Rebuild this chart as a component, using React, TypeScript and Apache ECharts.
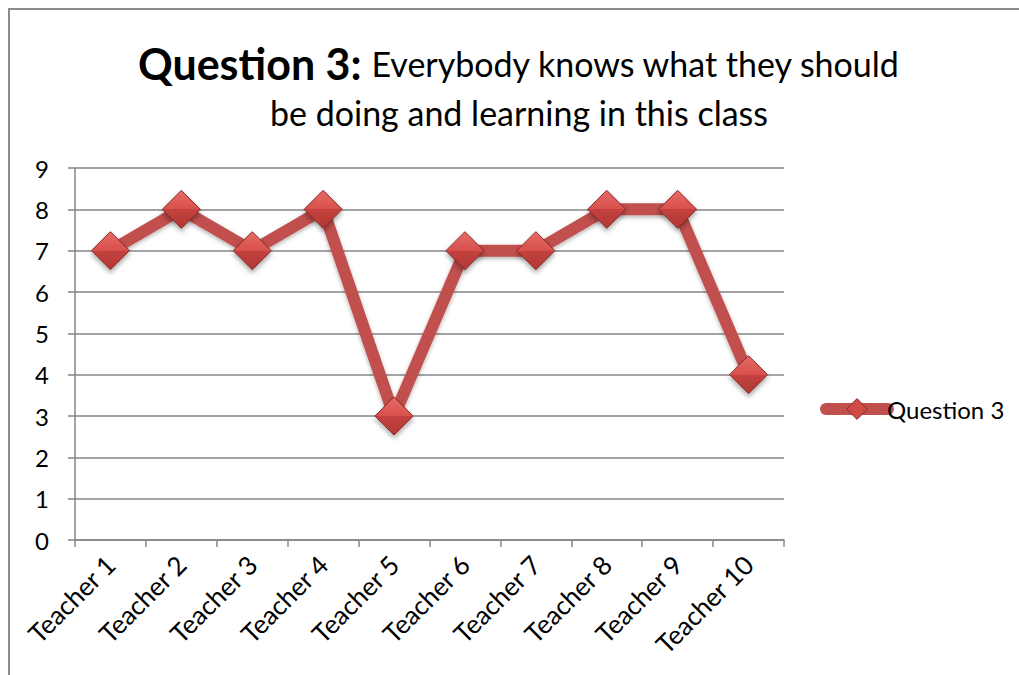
import React, { useEffect, useRef } from "react";
import * as echarts from "echarts";

const categories = ["Teacher 1", "Teacher 2", "Teacher 3", "Teacher 4", "Teacher 5", "Teacher 6", "Teacher 7", "Teacher 8", "Teacher 9", "Teacher 10"];
const values = [7, 8, 7, 8, 3, 7, 7, 8, 8, 4];
const seriesName = "Question 3";
const titleBold = "Question 3:";
const titleLine1 = "Everybody knows what they should";
const titleLine2 = "be doing and learning in this class";

const FONT = "Lato, 'Open Sans', sans-serif";

export default function App() {
  const ref = useRef<HTMLDivElement>(null);
  useEffect(() => {
    if (!ref.current) return;
    const chart = echarts.init(ref.current, null, { renderer: "svg" });
    const markerColor = new echarts.graphic.LinearGradient(0, 0, 0, 1, [
      { offset: 0, color: "#e66b67" },
      { offset: 0.5, color: "#d8504c" },
      { offset: 0.5, color: "#c4423e" },
      { offset: 1, color: "#b03834" },
    ]);
    chart.setOption({
      animation: false,
      backgroundColor: "#ffffff",
      textStyle: { fontFamily: FONT },
      graphic: [
        {
          type: "rect",
          shape: { x: 9, y: 9, width: 1100, height: 1000 },
          style: { fill: "none", stroke: "#8c8c8c", lineWidth: 2 },
          silent: true,
        },
        {
          type: "text",
          x: 519,
          y: 63,
          style: {
            text: `{b|${titleBold}}{n| ${titleLine1}}`,
            align: "center",
            verticalAlign: "middle",
            fill: "#000",
            rich: {
              b: { fontFamily: FONT, fontWeight: "bold", fontSize: 43, fill: "#000" },
              n: { fontFamily: FONT, fontWeight: "normal", fontSize: 34, fill: "#000" },
            },
          },
        },
        {
          type: "text",
          x: 519,
          y: 112,
          style: {
            text: titleLine2,
            align: "center",
            verticalAlign: "middle",
            fontFamily: FONT,
            fontWeight: "normal",
            fontSize: 34,
            fill: "#000",
          },
        },
      ],
      legend: {
        orient: "vertical",
        left: 815,
        top: 392,
        itemWidth: 62,
        itemHeight: 26,
        itemGap: 4,
        lineStyle: { width: 12, cap: "round" },
        itemStyle: { color: "#d04a46", borderColor: "#8a2a27", borderWidth: 1 },
        textStyle: { fontFamily: FONT, fontSize: 24, color: "#000", padding: [0, 0, 0, -6] },
        data: [seriesName],
      },
      grid: { left: 75, right: 235, top: 168, bottom: 135, containLabel: false },
      xAxis: {
        type: "category",
        data: categories,
        boundaryGap: true,
        axisLine: { lineStyle: { color: "#868686", width: 1.5 } },
        axisTick: { show: true, length: 7, lineStyle: { color: "#868686", width: 1.5 } },
        axisLabel: { rotate: 45, fontSize: 26, color: "#000", margin: 20, fontFamily: FONT, interval: 0 },
      },
      yAxis: {
        type: "value",
        min: 0,
        max: 9,
        interval: 1,
        axisLine: { show: true, lineStyle: { color: "#868686", width: 1.5 } },
        axisTick: { show: true, length: 7, lineStyle: { color: "#868686", width: 1.5 } },
        axisLabel: { fontSize: 24, color: "#000", margin: 26, fontFamily: FONT },
        splitLine: { lineStyle: { color: "#868686", width: 1.5 } },
      },
      series: [
        {
          name: seriesName,
          type: "line",
          data: values,
          symbol: "diamond",
          symbolSize: 38,
          lineStyle: {
            color: "#c0504d",
            width: 12,
            shadowBlur: 4,
            shadowColor: "rgba(0,0,0,0.3)",
            shadowOffsetY: 2,
          },
          itemStyle: {
            color: markerColor,
            borderColor: "#8a2a27",
            borderWidth: 1,
            shadowBlur: 5,
            shadowColor: "rgba(0,0,0,0.35)",
            shadowOffsetY: 3,
          },
        },
      ],
    });
    return () => chart.dispose();
  }, []);
  return <div ref={ref} style={{ position: "fixed", left: 0, top: 0, width: 1019, height: 675 }} />;
}
